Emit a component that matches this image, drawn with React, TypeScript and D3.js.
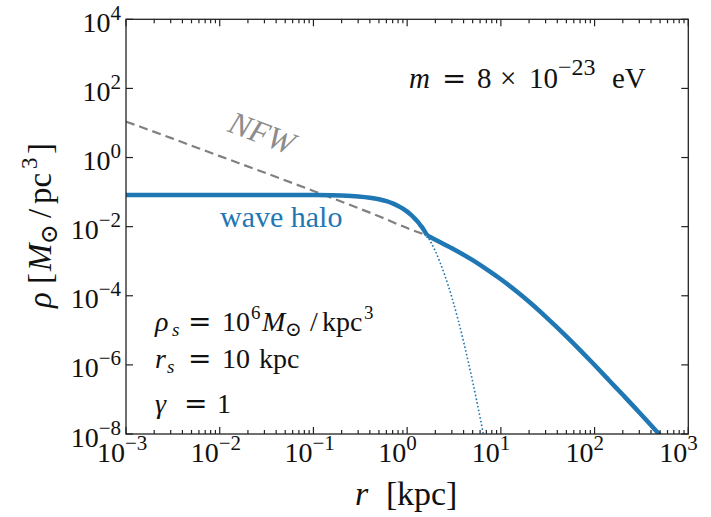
import React from "react";
import * as d3 from "d3";

// ---- data ----
// wave halo (soliton core), solid part
const coreR = [0.001, 0.01, 0.05, 0.1, 0.2, 0.3, 0.4, 0.5, 0.6, 0.7, 0.8, 0.9, 1.0, 1.1, 1.2, 1.3, 1.4, 1.5, 1.63];
const coreRho = [0.083, 0.083, 0.0829, 0.082, 0.0791, 0.0746, 0.0687, 0.0619, 0.0545, 0.0471, 0.0399, 0.0333, 0.0272, 0.0219, 0.0174, 0.0137, 0.0106, 0.0082, 0.0056];
// soliton continuation (dotted)
const tailR = [1.63, 2, 2.5, 3, 3.5, 4, 4.5, 5, 5.5, 6, 6.5];
const tailRho = [0.0056, 1.95e-3, 4.2e-4, 9.0e-5, 2.0e-5, 4.7e-6, 1.19e-6, 3.3e-7, 9.6e-8, 3.0e-8, 1.0e-8];
// NFW (dashed) inside the junction
const nfwR = [0.001, 0.003, 0.01, 0.03, 0.1, 0.3, 0.5, 1.0, 1.63];
const nfwRho = [11, 3.7, 1.1, 0.367, 0.108, 0.0345, 0.02, 0.0091, 0.0056];
// outer halo (solid, follows NFW)
const outerR = [1.63, 2, 3, 5, 7, 10, 15, 20, 30, 50, 70, 100, 150, 200, 300, 400, 500];
const outerRho = [0.0056, 4.17e-3, 2.37e-3, 1.07e-3, 5.9e-4, 3.0e-4, 1.28e-4, 6.7e-5, 2.5e-5, 6.7e-6, 2.68e-6, 9.9e-7, 3.1e-7, 1.36e-7, 4.2e-8, 1.78e-8, 9.2e-9];

const xExps = [-3, -2, -1, 0, 1, 2, 3];
const yExps = [4, 2, 0, -2, -4, -6, -8];

const BLUE = "#1f77b4";
const GRAY = "#808080";
const FONT = "Liberation Serif, DejaVu Serif, serif";
const OPF = "DejaVu Sans, sans-serif";

const W = 711, H = 517;
const L = 126, R = 688.3, T = 19.3, B = 434;

export default function App() {
  const x = d3.scaleLog().domain([1e-3, 1e3]).range([L, R]);
  const y = d3.scaleLog().domain([1e-8, 1e4]).range([B, T]);
  const line = d3.line<[number, number]>()
    .x(d => x(d[0])).y(d => y(d[1])).curve(d3.curveMonotoneX);
  const zip = (a: number[], b: number[]) => a.map((v, i) => [v, b[i]] as [number, number]);

  const minors: number[] = [];
  for (let e = -3; e < 3; e++) for (let k = 2; k <= 9; k++) minors.push(k * Math.pow(10, e));

  const fmt = (e: number) => (e < 0 ? "\u2212" + Math.abs(e) : String(e));
  const ts = { fontFamily: FONT } as React.CSSProperties;
  const op = { fontFamily: OPF } as React.CSSProperties;

  const annY = [331, 368, 413];

  return (
    <svg width={W} height={H} style={{ position: "absolute", left: 0, top: 0, background: "#fff", fontFamily: FONT }}>
      <defs>
        <clipPath id="plot"><rect x={L} y={T} width={R - L} height={B - T} /></clipPath>
      </defs>
      <rect x={0} y={0} width={W} height={H} fill="#fff" />
      <g clipPath="url(#plot)">
        <path d={line(zip(nfwR, nfwRho))!} fill="none" stroke={GRAY} strokeWidth={2.2} strokeDasharray="9,5" />
        <path d={line(zip(tailR, tailRho))!} fill="none" stroke={BLUE} strokeWidth={1.6} strokeDasharray="1.6,2.2" />
        <path d={line(zip(coreR, coreRho))!} fill="none" stroke={BLUE} strokeWidth={4.5} strokeLinejoin="round" />
        <path d={line(zip(outerR, outerRho))!} fill="none" stroke={BLUE} strokeWidth={4.5} strokeLinejoin="round" />
      </g>
      {/* ticks */}
      <g stroke="#222" strokeWidth={1.2}>
        {xExps.map(e => {
          const px = x(Math.pow(10, e));
          return <g key={"xt" + e}>
            <line x1={px} x2={px} y1={B} y2={B - 7} />
            <line x1={px} x2={px} y1={T} y2={T + 7} />
          </g>;
        })}
        {minors.map((v, i) => {
          const px = x(v);
          return <g key={"xm" + i}>
            <line x1={px} x2={px} y1={B} y2={B - 4} />
            <line x1={px} x2={px} y1={T} y2={T + 4} />
          </g>;
        })}
        {yExps.map(e => {
          const py = y(Math.pow(10, e));
          return <g key={"yt" + e}>
            <line x1={L} x2={L + 7} y1={py} y2={py} />
            <line x1={R} x2={R - 7} y1={py} y2={py} />
          </g>;
        })}
      </g>
      <rect x={L} y={T} width={R - L} height={B - T} fill="none" stroke="#222" strokeWidth={1.3} />
      {/* tick labels */}
      <g fill="#111" fontSize={28} style={ts}>
        {xExps.map(e => {
          const px = x(Math.pow(10, e));
          return (
            <text key={"xl" + e} y={461.5} style={ts}>
              <tspan x={px - 29}>10</tspan>
              <tspan x={px - 1} fontSize={21} dy={-12}>{fmt(e)}</tspan>
            </text>
          );
        })}
        {yExps.map(e => (
          <text key={"yl" + e} x={121} y={y(Math.pow(10, e)) + 12.5} textAnchor="end" style={ts}>
            10<tspan fontSize={21} dy={-12}>{fmt(e)}</tspan>
          </text>
        ))}
      </g>
      {/* axis labels */}
      <text y={505} fontSize={34} fill="#111" style={ts}>
        <tspan x={355} fontStyle="italic">r</tspan>
        <tspan x={386}>[</tspan>
        <tspan x={397}>kpc</tspan>
        <tspan x={446}>]</tspan>
      </text>
      <text transform="translate(51,308) rotate(-90)" fontSize={33} fill="#111" style={ts}>
        <tspan x={0} fontStyle="italic">ρ</tspan>
        <tspan x={24}>[</tspan>
        <tspan x={37} fontStyle="italic">M</tspan>
        <tspan x={64} fontSize={24} dy={6}>⊙</tspan>
        <tspan x={90} dy={-6}>/</tspan>
        <tspan x={104}>pc</tspan>
        <tspan x={139} fontSize={23} dy={-14}>3</tspan>
        <tspan x={154} dy={14}>]</tspan>
      </text>
      {/* mass annotation */}
      <text y={88} fontSize={29} fill="#111" style={ts}>
        <tspan x={409} fontStyle="italic">m</tspan>
        <tspan x={442} style={op} fontSize={29}>=</tspan>
        <tspan x={477}>8</tspan>
        <tspan x={500}>×</tspan>
        <tspan x={529}>10</tspan>
        <tspan x={558} fontSize={24} dy={-13}>−23</tspan>
        <tspan x={612} dy={13}>eV</tspan>
      </text>
      {/* halo parameters */}
      <g fontSize={28} fill="#111" style={ts}>
        <text y={annY[0]} style={ts}>
          <tspan x={155} fontStyle="italic">ρ</tspan>
          <tspan x={172} fontStyle="italic" fontSize={19} dy={5}>s</tspan>
          <tspan x={188} dy={-5} style={op} fontSize={28}>=</tspan>
          <tspan x={222}>10</tspan>
          <tspan x={251} fontSize={19} dy={-12}>6</tspan>
          <tspan x={262} fontStyle="italic" dy={12}>M</tspan>
          <tspan x={285} fontSize={20} dy={5}>⊙</tspan>
          <tspan x={310} dy={-5}>/</tspan>
          <tspan x={322}>kpc</tspan>
          <tspan x={364} fontSize={19} dy={-12}>3</tspan>
        </text>
        <text y={annY[1]} style={ts}>
          <tspan x={155} fontStyle="italic">r</tspan>
          <tspan x={167} fontStyle="italic" fontSize={19} dy={5}>s</tspan>
          <tspan x={188} dy={-5} style={op} fontSize={28}>=</tspan>
          <tspan x={222}>10</tspan>
          <tspan x={259}>kpc</tspan>
        </text>
        <text y={annY[2]} style={ts}>
          <tspan x={155} fontStyle="italic">γ</tspan>
          <tspan x={184} style={op} fontSize={28}>=</tspan>
          <tspan x={217}>1</tspan>
        </text>
      </g>
      <text x={220} y={227} fontSize={30} fill={BLUE} style={ts}>wave halo</text>
      <text transform="translate(258,143) rotate(21)" textAnchor="middle" fontSize={32} fontStyle="italic" fill="#8c8c8c" style={ts}>NFW</text>
    </svg>
  );
}
